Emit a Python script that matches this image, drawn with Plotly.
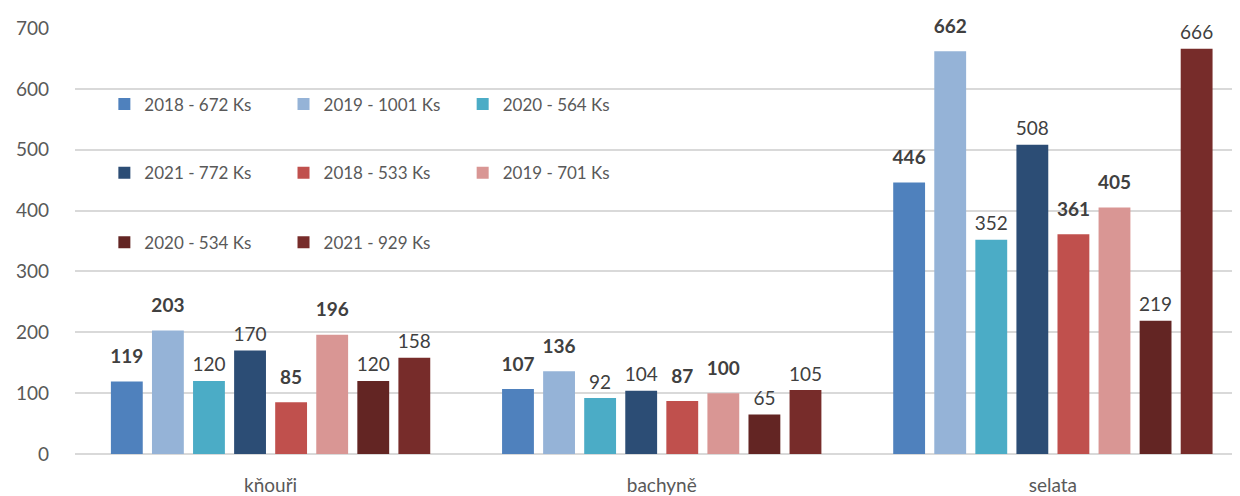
import plotly.graph_objects as go

kategorie = ['kňouři', 'bachyně', 'selata']

serie = ['2018 - 672 Ks', '2019 - 1001 Ks', '2020 - 564 Ks', '2021 - 772 Ks',
         '2018 - 533 Ks', '2019 - 701 Ks', '2020 - 534 Ks', '2021 - 929 Ks']

hodnoty = [
    [119, 107, 446],
    [203, 136, 662],
    [120, 92, 352],
    [170, 104, 508],
    [85, 87, 361],
    [196, 100, 405],
    [120, 65, 219],
    [158, 105, 666],
]

barvy = ['#4F81BD', '#95B3D7', '#4BACC6', '#2C4D75',
         '#C0504D', '#D99694', '#632523', '#772C2A']

tucne = [True, True, False, False, True, True, False, False]

W, H = 1240, 496
OK = 8  # okraj stranky (body margin)
# plocha grafu v pixelech okna: x 69.5..1240, y 26..454.5
L, T = 69.5 - OK, 26 - OK
R = W - (1240 - OK)
B = H - (454.5 - OK)
sirka_kat = 393.0  # px na jednu kategorii

# pozice polozek legendy (px v okne)
leg_x = [99, 279, 459, 99, 279, 459, 99, 279]
leg_y = [103, 103, 103, 172, 172, 172, 242, 242]

# rozlozeni sloupcu ve skupine (v jednotkach kategorie)
mezera = 0.16
slot = (1 - mezera) / len(serie)
w = 32 / sirka_kat

fig = go.Figure()
x_kat = list(range(len(kategorie)))

for i, s in enumerate(serie):
    leg = 'legend' if i == 0 else f'legend{i + 1}'
    off = -0.5 + mezera / 2 + i * slot + (slot - w) / 2
    fig.add_trace(go.Bar(
        name=s, x=x_kat, y=hodnoty[i], offset=off, width=w,
        marker=dict(color=barvy[i], line=dict(width=0)),
        legend=leg, hoverinfo='y',
    ))
    # popisky hodnot
    fig.add_trace(go.Scatter(
        x=[k + off + w / 2 for k in x_kat], y=hodnoty[i],
        mode='markers+text', text=[str(v) for v in hodnoty[i]],
        textposition='top center',
        marker=dict(size=20 if tucne[i] else 6, opacity=0),
        textfont=dict(size=19, color='#404040', family='Lato',
                      weight='bold' if tucne[i] else 'normal'),
        cliponaxis=False, showlegend=False, hoverinfo='skip',
    ))

pw = W - L - R
ph = H - T - B
layout_legendy = {}
for i in range(len(serie)):
    leg = 'legend' if i == 0 else f'legend{i + 1}'
    layout_legendy[leg] = dict(
        x=(leg_x[i] - OK - L) / pw, y=(H - B - (leg_y[i] - OK)) / ph,
        xanchor='left', yanchor='middle', bgcolor='rgba(0,0,0,0)',
        font=dict(size=17, color='#595959', family='Lato'),
        itemwidth=30, borderwidth=0,
    )

fig.update_layout(
    width=W, height=H,
    margin=dict(l=L, r=R, t=T, b=B, pad=0),
    paper_bgcolor='white', plot_bgcolor='white',
    font=dict(family='Lato', color='#595959'),
    showlegend=True,
    **layout_legendy,
)

fig.update_yaxes(range=[0, 700], dtick=100, showgrid=True, gridcolor='#D9D9D9',
                 gridwidth=1.5, zeroline=True, zerolinecolor='#D9D9D9',
                 zerolinewidth=1.5, tickfont=dict(size=19, color='#595959'),
                 ticklen=0, ticks='', ticklabelstandoff=25)
fig.update_xaxes(range=[-0.5, 2.5 - (8.5 / sirka_kat)], tickvals=x_kat,
                 ticktext=kategorie, showgrid=False, zeroline=False,
                 tickfont=dict(size=19, color='#595959'), showline=False,
                 ticklabelstandoff=18)

fig.write_html('out.html')
